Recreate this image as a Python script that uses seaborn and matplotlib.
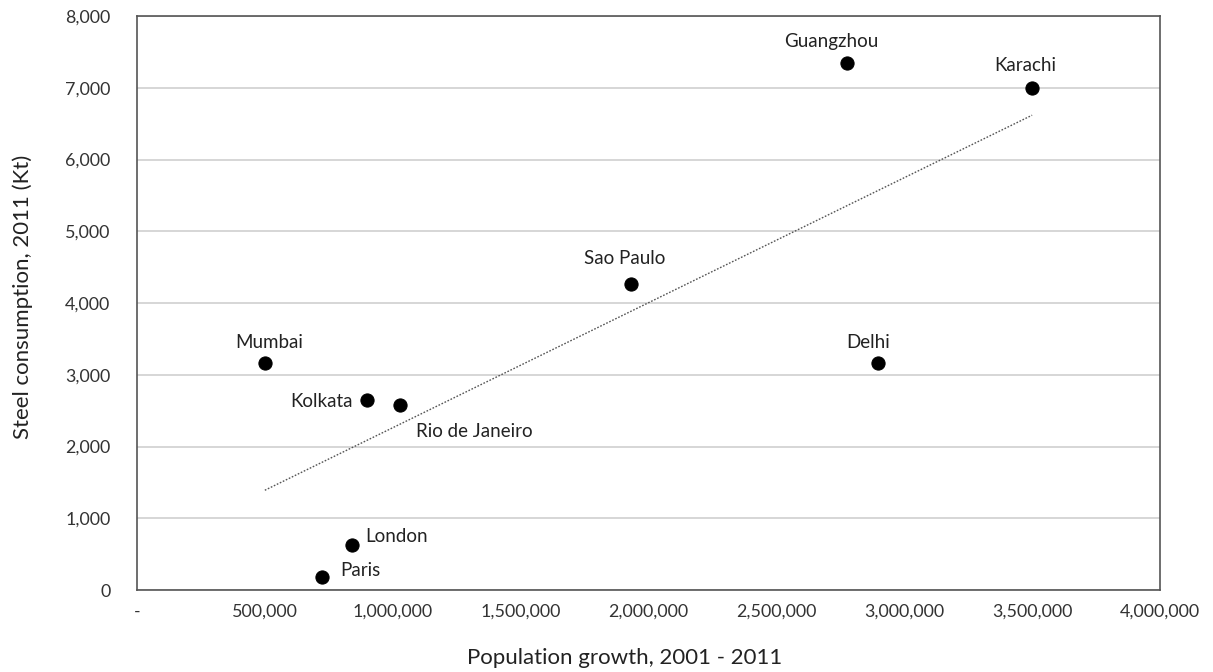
import matplotlib
matplotlib.use("Agg")
import matplotlib.pyplot as plt
import seaborn as sns
import pandas as pd
from matplotlib.ticker import MultipleLocator, FuncFormatter

cities = ["Mumbai", "Kolkata", "Rio de Janeiro", "Sao Paulo", "Guangzhou",
          "Karachi", "Delhi", "London", "Paris"]
pop_growth = [500000, 900000, 1030000, 1930000, 2776000, 3500000, 2897000, 840000, 723000]
steel = [3170, 2650, 2580, 4265, 7345, 7000, 3164, 627, 181]

# label offsets (pixels) and alignment
label_pos = {
    "Mumbai": (4, 22, "center"),
    "Kolkata": (-14, 0, "right"),
    "Rio de Janeiro": (16, -25, "left"),
    "Sao Paulo": (-6, 27, "center"),
    "Guangzhou": (-16, 23, "center"),
    "Karachi": (-7, 24, "center"),
    "Delhi": (-10, 22, "center"),
    "London": (13, 10, "left"),
    "Paris": (18, 8, "left"),
}

df = pd.DataFrame({"city": cities, "x": pop_growth, "y": steel})

sns.set_style("white")
plt.rcParams["font.family"] = ["Lato", "DejaVu Sans"]

fig = plt.figure(figsize=(12.13, 6.72), dpi=100)
ax = fig.add_axes([0.1129, 0.122, 0.9563 - 0.1129, 0.976 - 0.122])

ax.set_xlim(0, 4000000)
ax.set_ylim(0, 8000)
ax.yaxis.set_major_locator(MultipleLocator(1000))
ax.yaxis.set_minor_locator(MultipleLocator(200))
ax.xaxis.set_major_locator(MultipleLocator(500000))
ax.xaxis.set_minor_locator(MultipleLocator(100000))
ax.grid(axis="y", which="major", color="#d0d0d0", linewidth=1.2)
ax.set_axisbelow(True)

sns.regplot(data=df, x="x", y="y", ax=ax, scatter=False, ci=None, truncate=True,
            line_kws=dict(color="#555555", linestyle=(0, (1.2, 1.2)), linewidth=1.0))
sns.scatterplot(data=df, x="x", y="y", ax=ax, color="black", s=90,
                edgecolor="black", zorder=5)

for c, x, y in zip(cities, pop_growth, steel):
    dx, dy, ha = label_pos[c]
    ax.annotate(c, (x, y), xytext=(dx, dy), textcoords="offset pixels",
                ha=ha, va="center_baseline", fontsize=13.5, color="#222222")

ax.xaxis.set_major_formatter(FuncFormatter(lambda v, p: "-" if v == 0 else f"{int(v):,}"))
ax.yaxis.set_major_formatter(FuncFormatter(lambda v, p: f"{int(v):,}"))

ax.tick_params(axis="both", which="both", direction="in", colors="#444444",
               labelcolor="#333333", labelsize=12.9)
ax.tick_params(axis="both", which="major", length=5, width=1)
ax.tick_params(axis="both", which="minor", length=4, width=1)
ax.tick_params(axis="x", which="major", pad=10)
ax.tick_params(axis="y", which="major", pad=19)

for s in ax.spines.values():
    s.set_visible(True)
    s.set_color("#555555")
    s.set_linewidth(1.2)

ax.set_xlabel("Population growth, 2001 - 2011", fontsize=16, color="#222222",
              labelpad=20, x=0.477)
ax.set_ylabel("Steel consumption, 2011 (Kt)", fontsize=16, color="#222222",
              labelpad=23, y=0.51)

fig.savefig("out.png", dpi=100)
